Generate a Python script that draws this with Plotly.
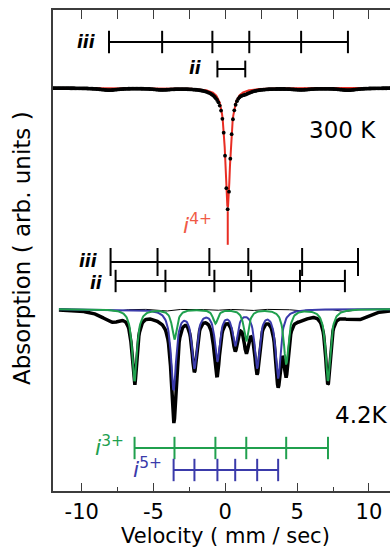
import numpy as np
import plotly.graph_objects as go

# ---------------- data ----------------
x_tickvals = [-10, -5, 0, 5, 10]
x_ticktext = ["-10", "-5", "0", "5", "10"]
top_tickvals = [-10, -7.5, -5, -2.5, 0, 2.5, 5, 7.5, 10]

# velocity channels (mm/s)
velocity = np.linspace(-12, 11.5, 512)
velocity_300 = np.linspace(-12, 11.5, 256)

# 300 K spectrum (arb. units)
base_300 = 403
i4_pos = [0.17]
i4_depth = [120]
i4_width = 0.42
ii300_pos = [-0.55, 1.39]
ii300_depth = [2, 2]
ii300_width = 0.8
iii300_pos = [-8.1, -4.4, -0.9, 1.67, 5.28, 8.54]
iii300_depth = [2, 1.5, 1, 1, 1.5, 2]
iii300_width = 1.5

# 4.2 K spectrum (arb. units)
base_4k = 182
i3_pos = [-6.32, -3.54, -0.69, 1.46, 4.24, 7.15]
i3_depth = [72, 30, 14, 32, 55, 72]
i3_width = 0.4
i5_pos = [-3.6, -2.15, -0.55, 0.69, 2.22, 3.68]
i5_depth = [80, 57, 50, 34, 57, 68]
i5_width = 0.43
iii4k_pos = [-7.99, -4.72, -1.11, 1.6, 5.35, 9.24]
iii4k_depth = [9, 5, 2, 2, 5, 9]
iii4k_width = 1.8
ii4k_pos = [-7.64, -4.17, -0.76, 1.8, 5.2, 8.33]
ii4k_depth = [2.5, 2, 1.5, 1.5, 2, 2.5]
ii4k_width = 1.0
v_start_4k = -11.6

# stick-diagram levels (arb. units)
lvl_iii300, lvl_ii300, lvl_i4 = 449, 422, 263
lvl_iii4k, lvl_ii4k = 229, 210
lvl_i3, lvl_i5 = 43, 21

GREEN = "rgb(32,160,78)"
BLUE = "rgb(58,58,170)"
RED = "rgb(232,45,35)"
FONT = "DejaVu Sans"


def lor(v, pos, depth, width):
    out = np.zeros_like(v)
    for p, d in zip(pos, depth):
        out += d / (1 + (2 * (v - p) / width) ** 2)
    return out


fig = go.Figure()

# ---- 300 K ----
fit_i4 = lor(velocity, i4_pos, i4_depth, i4_width)
tot300 = lor(velocity_300, i4_pos, i4_depth, i4_width) + \
    lor(velocity_300, ii300_pos, ii300_depth, ii300_width) + \
    lor(velocity_300, iii300_pos, iii300_depth, iii300_width)
fig.add_trace(go.Scatter(x=velocity, y=base_300 - fit_i4, mode="lines",
                         line=dict(color=RED, width=2), hoverinfo="skip"))
fig.add_trace(go.Scatter(x=velocity_300, y=base_300 - tot300, mode="markers",
                         marker=dict(color="black", size=3.8), hoverinfo="skip"))

# ---- 4.2 K ----
v4 = velocity[velocity >= v_start_4k]
g = lor(v4, i3_pos, i3_depth, i3_width)
b = lor(v4, i5_pos, i5_depth, i5_width)
c3 = lor(v4, iii4k_pos, iii4k_depth, iii4k_width)
c2 = lor(v4, ii4k_pos, ii4k_depth, ii4k_width)
tot4 = g + b + c3 + c2
fig.add_trace(go.Scatter(x=v4, y=base_4k - tot4, mode="lines",
                         line=dict(color="black", width=3.5), hoverinfo="skip"))
fig.add_trace(go.Scatter(x=v4, y=base_4k - c2, mode="lines",
                         line=dict(color="black", width=1), hoverinfo="skip"))
fig.add_trace(go.Scatter(x=v4, y=base_4k - b, mode="lines",
                         line=dict(color=BLUE, width=2), hoverinfo="skip"))
fig.add_trace(go.Scatter(x=v4, y=base_4k - g, mode="lines",
                         line=dict(color=GREEN, width=2), hoverinfo="skip"))


# ---- stick diagrams ----
def sticks(pos, level, color, size, lw=2):
    fig.add_trace(go.Scatter(x=[min(pos), max(pos)], y=[level, level], mode="lines",
                             line=dict(color=color, width=lw), hoverinfo="skip"))
    fig.add_trace(go.Scatter(x=pos, y=[level] * len(pos), mode="markers",
                             marker=dict(symbol="line-ns", size=size,
                                         line=dict(color=color, width=lw)),
                             hoverinfo="skip"))


sticks(iii300_pos, lvl_iii300, "black", 16)
sticks(ii300_pos, lvl_ii300, "black", 12)
fig.add_trace(go.Scatter(x=i4_pos, y=[lvl_i4], mode="markers",
                         marker=dict(symbol="line-ns", size=24,
                                     line=dict(color=RED, width=2)),
                         hoverinfo="skip"))
sticks(iii4k_pos, lvl_iii4k, "black", 20)
sticks(ii4k_pos, lvl_ii4k, "black", 16)
sticks(i3_pos, lvl_i3, GREEN, 16)
sticks(i5_pos, lvl_i5, BLUE, 16)

# ---- annotations ----
ann = []


def label(x, y, text, color="black", size=18, xanchor="center", xref="x", yref="y",
          angle=0, family=FONT):
    ann.append(dict(x=x, y=y, xref=xref, yref=yref, text=text, showarrow=False,
                    xanchor=xanchor, yanchor="middle", textangle=angle,
                    font=dict(family=family, size=size, color=color)))


label(-8.9, lvl_iii300, "<b><i>iii</i></b>", size=17, xanchor="right")
label(-1.45, lvl_ii300 + 1, "<b><i>ii</i></b>", size=17, xanchor="right")
label(-8.7, lvl_iii4k + 1, "<b><i>iii</i></b>", size=17, xanchor="right")
label(-8.4, lvl_ii4k - 2, "<b><i>ii</i></b>", size=17, xanchor="right")
label(8.15, 361, "300 K", size=23)
label(11.47, 76, "4.2K", size=23, xanchor="right")
label(-6.9, lvl_i3 + 2, "<i>i</i><sup>3+</sup>", color=GREEN, size=22, xanchor="right")
label(-4.25, lvl_i5 + 2, "<i>i</i><sup>5+</sup>", color=BLUE, size=22, xanchor="right")
label(-0.8, lvl_i4 + 4, "<i>i</i><sup>4+</sup>", color="rgb(240,90,70)", size=22,
      xanchor="right")
label(0, -0.093, "Velocity ( mm / sec)", size=21, yref="paper")
label(-0.092, 0.505, "Absorption ( arb. units )", size=23, xref="paper", yref="paper",
      angle=-90)

fig.update_layout(
    width=390, height=550,
    margin=dict(l=53, r=0, t=10, b=59),
    paper_bgcolor="white", plot_bgcolor="white",
    showlegend=False,
    annotations=ann,
    xaxis=dict(range=[-12, 11.47], showgrid=False, zeroline=False,
               showline=True, linecolor="rgb(60,60,60)", linewidth=1.5,
               ticks="inside", ticklen=8, tickwidth=1.2, tickcolor="rgb(60,60,60)",
               tickvals=x_tickvals, ticktext=x_ticktext, ticklabelstandoff=1,
               tickfont=dict(family=FONT, size=21, color="black"),
               minor=dict(tickvals=[-7.5, -2.5, 2.5, 7.5], ticks="inside", ticklen=4,
                          tickwidth=1.2, tickcolor="rgb(60,60,60)")),
    xaxis2=dict(range=[-12, 11.47], overlaying="x", side="top", matches="x",
                showgrid=False, zeroline=False, showline=True,
                linecolor="rgb(60,60,60)", linewidth=1.5,
                ticks="inside", ticklen=9, tickwidth=1.2, tickcolor="rgb(60,60,60)",
                tickvals=top_tickvals, showticklabels=False),
    yaxis=dict(range=[0, 481], showgrid=False, zeroline=False, showline=True,
               linecolor="rgb(60,60,60)", linewidth=1.5, showticklabels=False,
               ticks=""),
)
# dummy trace to activate the top axis
fig.add_trace(go.Scatter(x=[0], y=[-100], xaxis="x2", mode="markers",
                         marker=dict(size=1, color="white"), hoverinfo="skip"))

fig.write_html("out.html")
